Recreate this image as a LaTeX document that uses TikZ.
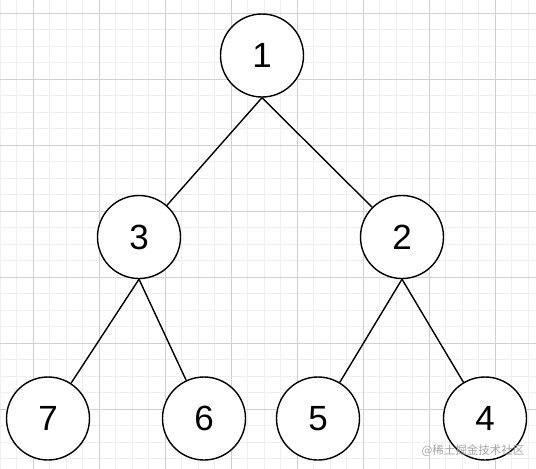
\documentclass[tikz,border=0pt]{standalone}
\usepackage{fontspec}
\setmainfont{Liberation Sans}
\newfontfamily\cjk{Noto Sans CJK SC}
\begin{document}
\begin{tikzpicture}[x=1pt,y=-1pt,
vtx/.style={draw,circle,line width=1.4pt,minimum size=83pt,inner sep=0pt,fill=white,font=\fontsize{35}{35}\selectfont},
edge/.style={line width=1.4pt},
minorline/.style={draw=black!6,line width=0.8pt},majorline/.style={draw=black!18,line width=0.8pt}]
\useasboundingbox[fill=white] (0,0) rectangle (536,469);
\foreach \i in {0,...,32}{\draw[minorline] (\i*16.5,0) -- (\i*16.5,469);}
\foreach \j in {0,...,29}{\draw[minorline] (0,\j*16.5-3.5) -- (536,\j*16.5-3.5);}
\foreach \i in {0,...,7}{\draw[majorline] (33+\i*66,0) -- (33+\i*66,469);}
\foreach \j in {0,...,7}{\draw[majorline] (0,13+\j*66) -- (536,13+\j*66);}
\node[vtx] (n1) at (262,55.5){1};
\node[vtx] (n3) at (139,237){3};\node[vtx] (n2) at (402,237){2};
\node[vtx] (n7) at (48,418.5){7};\node[vtx] (n6) at (204,418.5){6};
\node[vtx] (n5) at (318,418.5){5};\node[vtx] (n4) at (485,418.5){4};
\draw[edge] (n1.south) -- (n3);\draw[edge] (n1.south) -- (n2);
\draw[edge] (n3.south) -- (n7);\draw[edge] (n3.south) -- (n6);
\draw[edge] (n2.south) -- (n5);\draw[edge] (n2.south) -- (n4);
\node[text=black!35,font=\cjk\fontsize{11.5}{12}\selectfont] (mark) at (473,451){@稀土掘金技术社区};
\end{tikzpicture}
\end{document}
